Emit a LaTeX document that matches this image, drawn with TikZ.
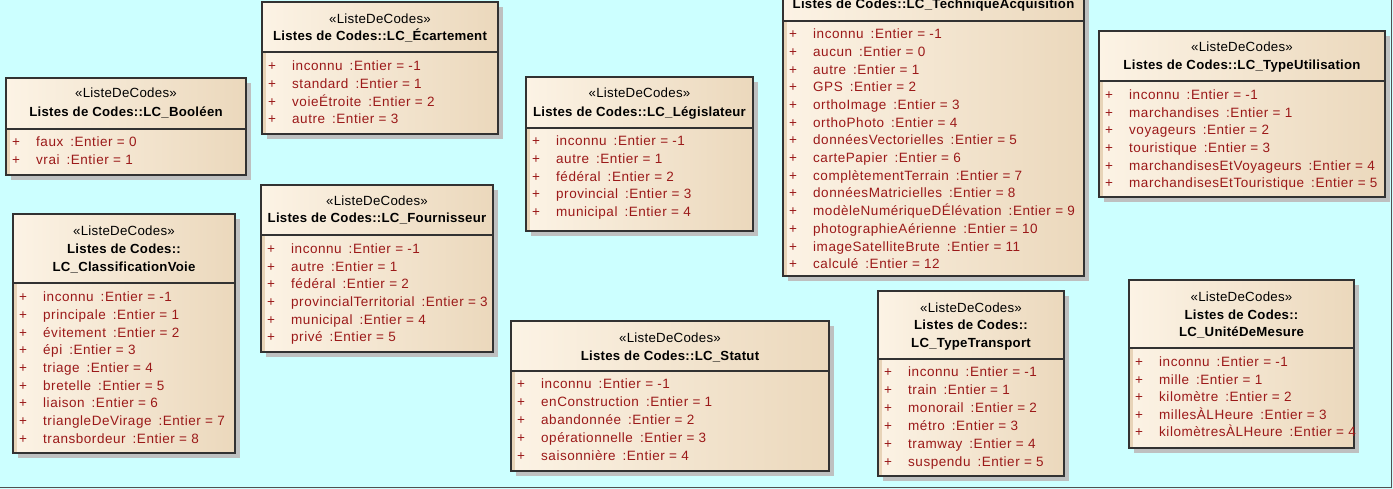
\documentclass[tikz,border=0pt]{standalone}
\usepackage{fontspec}
\setmainfont{Liberation Sans}
\newfontfamily\attrfont[LetterSpace=4]{Liberation Sans}
\newfontfamily\headfont[LetterSpace=2]{Liberation Sans}
\definecolor{bgc}{RGB}{204,255,255}
\definecolor{framec}{RGB}{80,80,80}
\definecolor{shadowc}{RGB}{190,192,192}
\definecolor{creamL}{RGB}{252,243,229}
\definecolor{tanR}{RGB}{235,216,188}
\definecolor{stripc}{RGB}{232,212,184}
\definecolor{borderc}{RGB}{50,50,50}
\definecolor{attrc}{RGB}{155,25,25}
\tikzset{
  boxline/.style={draw=borderc,line width=1.3pt},
  stereo/.style={inner sep=0pt,anchor=base,font=\headfont\fontsize{13.3}{15}\selectfont,text=black},
  ctitle/.style={inner sep=0pt,anchor=base,font=\headfont\bfseries\fontsize{13.2}{15}\selectfont,text=black},
  plus/.style={inner sep=0pt,anchor=base,font=\attrfont\fontsize{13.5}{15}\selectfont,text=attrc},
  attr/.style={inner sep=0pt,anchor=base west,font=\attrfont\fontsize{13.5}{15}\selectfont,text=attrc}
}
\newcommand\umlbox[6]{%
  \fill[shadowc] (#2+5,#3+5) rectangle (#4+5,#5+5);
  \shade[left color=creamL,right color=tanR] (#2,#3) rectangle (#4,#5);
  \fill[stripc] (#2,#6) rectangle (#2+4,#5);
  \draw[boxline] (#2,#3) rectangle (#4,#5);
  \draw[boxline] (#2,#6) -- (#4,#6);
}
\newcommand\umlattrs[5]{%
  \foreach \nm/\vl [count=\i] in {#5} {
    \node[plus] (#1-p\i) at (#2+10,#3+4.7+\i*#4-#4) {+};
    \node[attr] (#1-a\i) at (#2+30,#3+4.7+\i*#4-#4) {\nm\hspace{7pt}:Entier = \vl};
  }%
}
\begin{document}
\begin{tikzpicture}[x=1pt,y=-1pt]
\useasboundingbox (0,0) rectangle (1393,489);
\fill[bgc] (0,0) rectangle (1393,489);
\draw[framec,line width=1.5pt] (0,487.5) -- (1391.5,487.5) -- (1391.5,0);

% LC_Booleen
\umlbox{boo}{6}{78}{246}{175}{129}
\node[stereo] (boo-st) at (126,97.6) {«ListeDeCodes»};
\node[ctitle] (boo-t) at (126,116.6) {Listes de Codes::LC\_Booléen};
\umlattrs{boo}{6}{142}{18}{faux/0,vrai/1}

% LC_ClassificationVoie
\umlbox{cls}{13}{214}{235}{453}{283}
\node[stereo] (cls-st) at (124,235.6) {«ListeDeCodes»};
\node[ctitle] (cls-t1) at (124,253.6) {Listes de Codes::};
\node[ctitle] (cls-t2) at (124,271.6) {LC\_ClassificationVoie};
\umlattrs{cls}{13}{297}{17.7}{inconnu/-1,principale/1,évitement/2,épi/3,triage/4,bretelle/5,liaison/6,triangleDeVirage/7,transbordeur/8}

% LC_Ecartement
\umlbox{eca}{262}{2}{498}{134}{52}
\node[stereo] (eca-st) at (380,23.6) {«ListeDeCodes»};
\node[ctitle] (eca-t) at (380,40.6) {Listes de Codes::LC\_Écartement};
\umlattrs{eca}{262}{66}{17.7}{inconnu/-1,standard/1,voieÉtroite/2,autre/3}

% LC_Fournisseur
\umlbox{fou}{261}{185}{493}{352}{235}
\node[stereo] (fou-st) at (377,205.6) {«ListeDeCodes»};
\node[ctitle] (fou-t) at (377,222.6) {Listes de Codes::LC\_Fournisseur};
\umlattrs{fou}{261}{249}{17.6}{inconnu/-1,autre/1,fédéral/2,provincialTerritorial/3,municipal/4,privé/5}

% LC_Legislateur
\umlbox{leg}{526}{77}{753}{231}{128}
\node[stereo] (leg-st) at (639.5,97.6) {«ListeDeCodes»};
\node[ctitle] (leg-t) at (639.5,116.6) {Listes de Codes::LC\_Législateur};
\umlattrs{leg}{526}{141}{17.75}{inconnu/-1,autre/1,fédéral/2,provincial/3,municipal/4}

% LC_Statut
\umlbox{sta}{511}{321}{829}{471}{371}
\node[stereo] (sta-st) at (670,342.6) {«ListeDeCodes»};
\node[ctitle] (sta-t) at (670,360.6) {Listes de Codes::LC\_Statut};
\umlattrs{sta}{511}{384}{18}{inconnu/-1,enConstruction/1,abandonnée/2,opérationnelle/3,saisonnière/4}

% LC_TechniqueAcquisition
\umlbox{tec}{783}{-32}{1084}{276}{21}
\node[ctitle] (tec-t) at (933.5,8.6) {Listes de Codes::LC\_TechniqueAcquisition};
\umlattrs{tec}{783}{34}{17.7}{inconnu/-1,aucun/0,autre/1,GPS/2,orthoImage/3,orthoPhoto/4,donnéesVectorielles/5,cartePapier/6,complètementTerrain/7,donnéesMatricielles/8,modèleNumériqueDÉlévation/9,photographieAérienne/10,imageSatelliteBrute/11,calculé/12}

% LC_TypeTransport
\umlbox{ttr}{878}{291}{1064}{476}{359}
\node[stereo] (ttr-st) at (971,312.6) {«ListeDeCodes»};
\node[ctitle] (ttr-t1) at (971,329.6) {Listes de Codes::};
\node[ctitle] (ttr-t2) at (971,347.6) {LC\_TypeTransport};
\umlattrs{ttr}{878}{372}{18}{inconnu/-1,train/1,monorail/2,métro/3,tramway/4,suspendu/5}

% LC_TypeUtilisation
\umlbox{tut}{1099}{31}{1385}{197}{81}
\node[stereo] (tut-st) at (1242,51.6) {«ListeDeCodes»};
\node[ctitle] (tut-t) at (1242,69.6) {Listes de Codes::LC\_TypeUtilisation};
\umlattrs{tut}{1099}{95}{17.6}{inconnu/-1,marchandises/1,voyageurs/2,touristique/3,marchandisesEtVoyageurs/4,marchandisesEtTouristique/5}

% LC_UniteDeMesure
\umlbox{uni}{1129}{280}{1354}{448}{348}
\node[stereo] (uni-st) at (1241.5,301.6) {«ListeDeCodes»};
\node[ctitle] (uni-t1) at (1241.5,319.6) {Listes de Codes::};
\node[ctitle] (uni-t2) at (1241.5,336.6) {LC\_UnitéDeMesure};
\umlattrs{uni}{1129}{362}{17.5}{inconnu/-1,mille/1,kilomètre/2,millesÀLHeure/3,kilomètresÀLHeure/4}
\end{tikzpicture}
\end{document}
